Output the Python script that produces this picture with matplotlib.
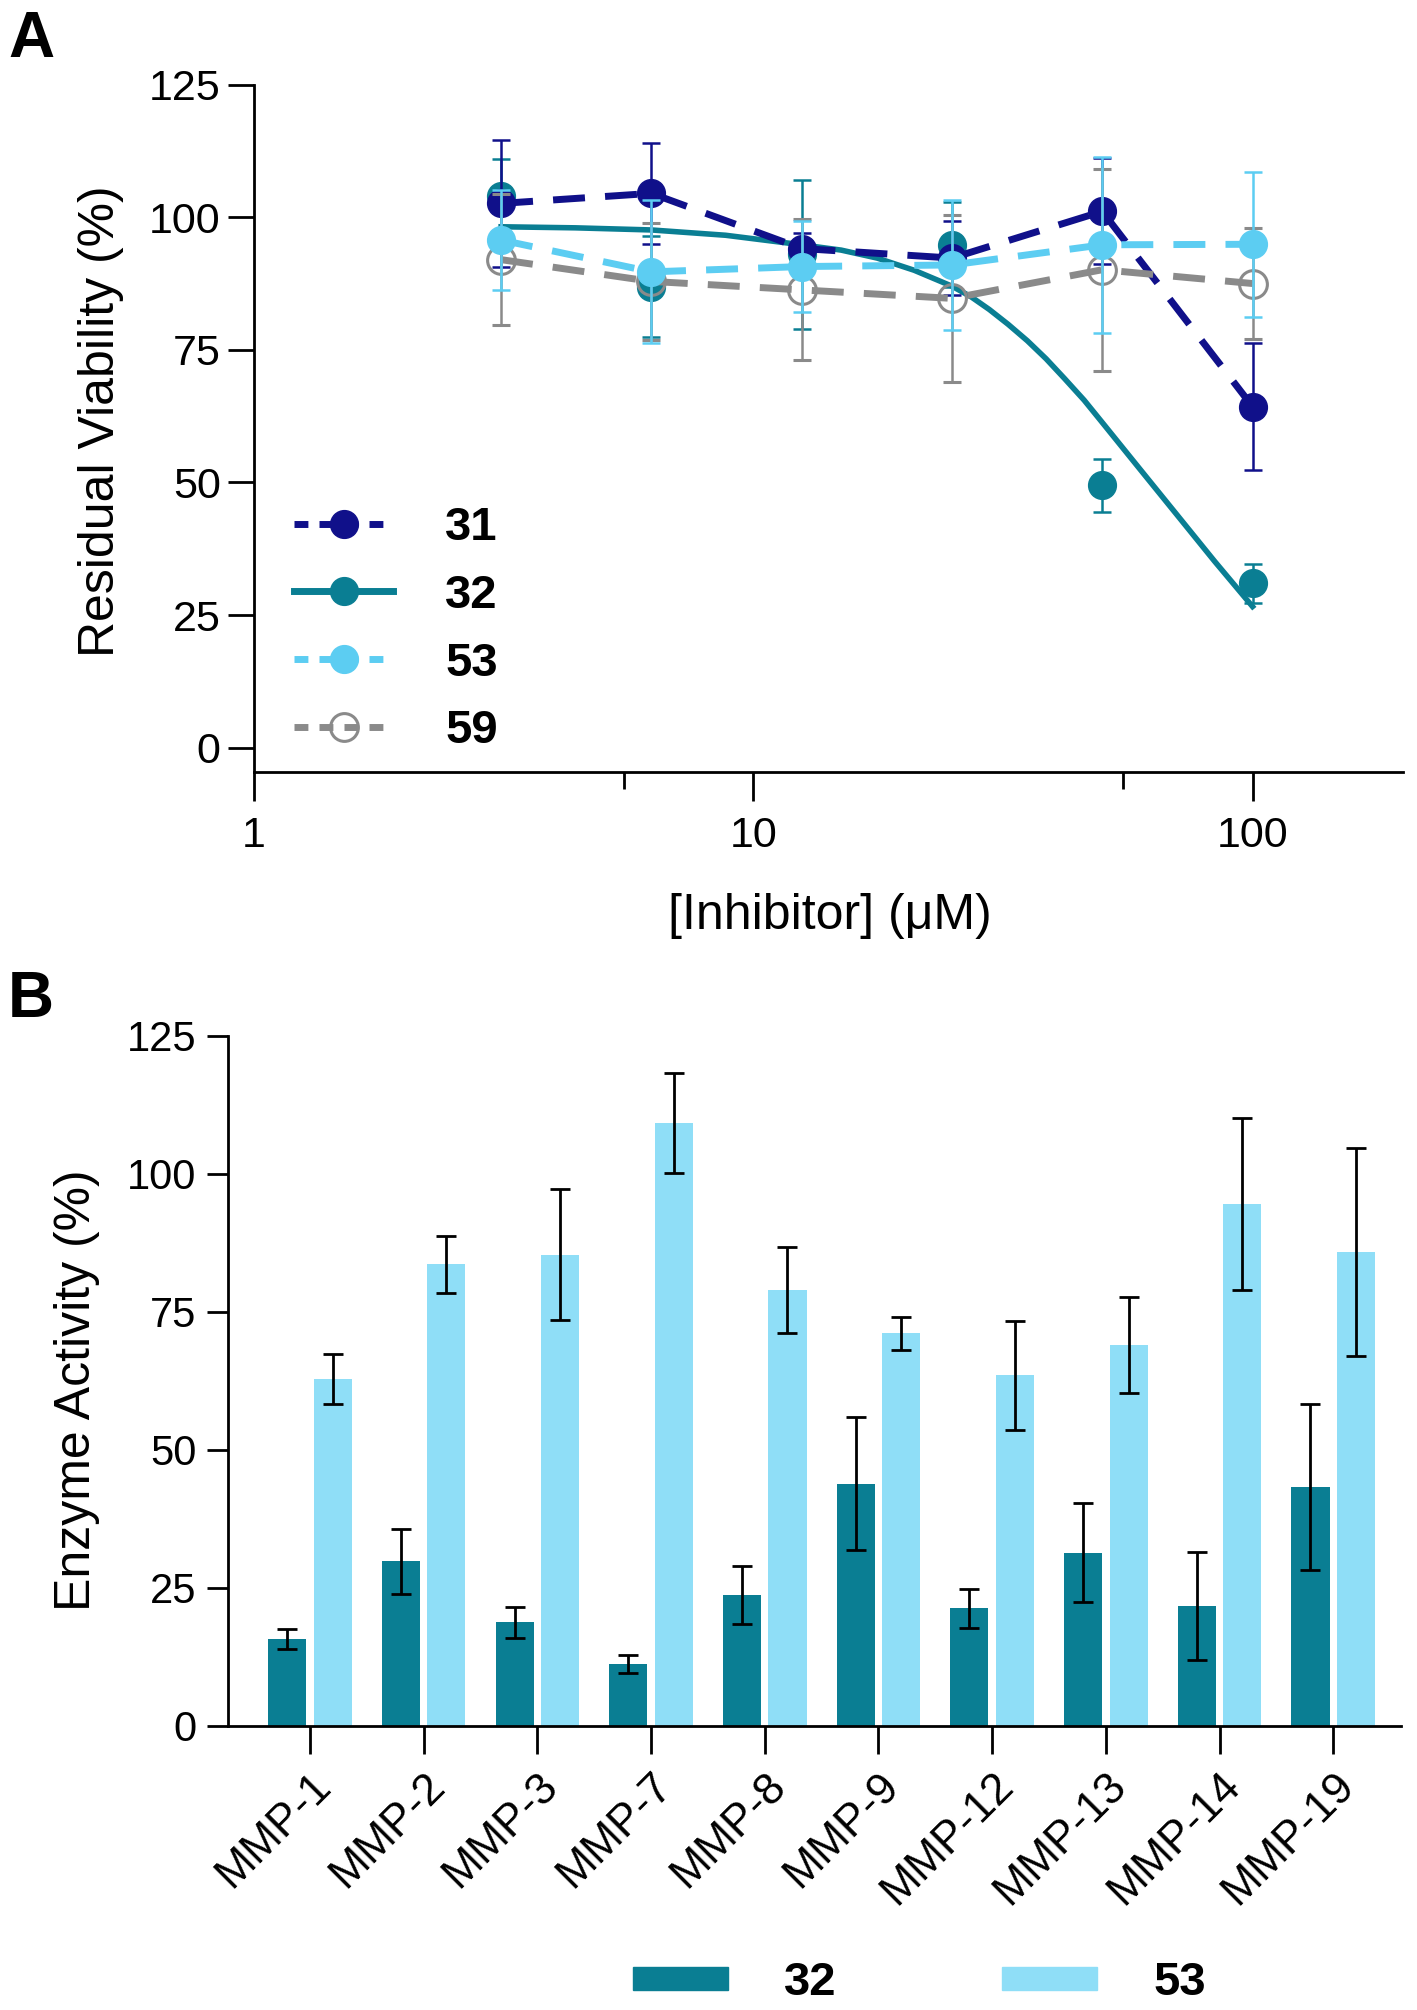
import numpy as np
import matplotlib
matplotlib.use("Agg")
import matplotlib.pyplot as plt
from matplotlib.lines import Line2D
from matplotlib.patches import Patch

plt.rcParams['font.family'] = ['Liberation Sans', 'DejaVu Sans']

# ---- panel A: residual viability vs inhibitor concentration ----
conc = [3.125, 6.25, 12.5, 25, 50, 100]

v31 = [102.6, 104.5, 94.1, 92.3, 101.1, 64.3]
e31 = [12.0, 9.5, 3.0, 7.0, 10.0, 12.0]
v32 = [104.0, 86.9, 93.0, 94.8, 49.5, 31.0]
e32 = [7.0, 9.5, 14.0, 8.0, 5.0, 3.7]
v53 = [95.7, 89.7, 90.7, 91.0, 94.8, 94.9]
e53 = [9.5, 13.5, 8.5, 12.3, 16.6, 13.7]
v59 = [92.0, 87.9, 86.3, 84.7, 90.1, 87.5]
e59 = [12.3, 11.0, 13.3, 15.8, 19.0, 10.5]

# fitted curve for 32
fit32_x = [3.125, 4.4, 6.25, 8.8, 12.5, 15, 17.7, 21, 25, 27.3, 29.7, 32.4,
           35.4, 38.6, 42, 46, 50, 59.5, 70.7, 84, 100]
fit32_y = [98.2, 98.0, 97.6, 96.6, 94.8, 93.8, 92.3, 90.0, 87.0, 85.0, 82.6,
           79.8, 76.7, 73.3, 69.6, 65.5, 61.3, 52.5, 43.8, 35.1, 26.6]

# ---- panel B: enzyme activity per MMP ----
mmps = ['MMP-1', 'MMP-2', 'MMP-3', 'MMP-7', 'MMP-8', 'MMP-9',
        'MMP-12', 'MMP-13', 'MMP-14', 'MMP-19']
act32 = [15.7, 29.8, 18.8, 11.2, 23.7, 43.9, 21.3, 31.4, 21.8, 43.3]
err32 = [1.8, 5.8, 2.8, 1.6, 5.3, 12.1, 3.5, 9.0, 9.8, 15.1]
act53 = [62.9, 83.6, 85.4, 109.2, 79.0, 71.1, 63.5, 69.0, 94.6, 85.9]
err53 = [4.5, 5.1, 11.8, 9.1, 7.8, 3.0, 9.8, 8.7, 15.6, 18.8]

NAVY = '#10108a'
TEAL = '#0a7e93'
SKY = '#5ccdf2'
GREY = '#8a8a8a'
PALE = '#8fdef7'

fig = plt.figure(figsize=(14.17, 20.10), dpi=100)

# ================= panel A =================
ax = fig.add_axes([0.1793, 0.6159, 0.8107, 0.3420])
dash = (4.6, 2.9)
MS = 20

ax.errorbar(conc, v32, yerr=e32, fmt='o', color=TEAL, ms=MS, elinewidth=1.8,
            capsize=6.5, capthick=1.8, zorder=3)
ax.plot(fit32_x, fit32_y, '-', color=TEAL, lw=4, zorder=3,
        solid_joinstyle='round')

ax.errorbar(conc, v31, yerr=e31, fmt='o', color=NAVY, ms=MS, elinewidth=1.8,
            capsize=6.5, capthick=1.8, zorder=4)
ax.plot(conc, v31, color=NAVY, lw=5, dashes=dash, zorder=4)

ax.errorbar(conc, v59, yerr=e59, fmt='o', color=GREY, mfc='none', mew=2.2,
            ms=MS, elinewidth=1.8, capsize=6.5, capthick=1.8, zorder=5)
ax.plot(conc, v59, color=GREY, lw=5, dashes=dash, zorder=5)

ax.errorbar(conc, v53, yerr=e53, fmt='o', color=SKY, ms=MS, elinewidth=1.8,
            capsize=6.5, capthick=1.8, zorder=6)
ax.plot(conc, v53, color=SKY, lw=5, dashes=dash, zorder=6)

ax.set_xscale('log')
ax.set_xlim(1, 200)
ax.set_ylim(-4.6, 125)
ax.set_yticks([0, 25, 50, 75, 100, 125])
ax.set_xticks([1, 10, 100])
ax.set_xticklabels(['1', '10', '100'])
ax.set_xticks([5.5, 55], minor=True)
ax.xaxis.set_minor_formatter(plt.NullFormatter())
for s in ['top', 'right']:
    ax.spines[s].set_visible(False)
for s in ['left', 'bottom']:
    ax.spines[s].set_linewidth(2.0)
ax.tick_params(axis='y', length=19, width=2.0, labelsize=31, pad=5)
ax.tick_params(axis='x', which='major', length=21, width=2.0, labelsize=31, pad=11)
ax.tick_params(axis='x', which='minor', length=12, width=2.0)

ax.set_ylabel('Residual Viability (%)', fontsize=36)
ax.yaxis.set_label_coords(-0.113, 0.51)
ax.set_xlabel('[Inhibitor] (\u03bcM)', fontsize=36, va='top')
ax.xaxis.set_label_coords(0.501, -0.176)

handles = [
    Line2D([], [], color=NAVY, lw=5, dashes=(2.0, 1.6), marker='o', ms=MS),
    Line2D([], [], color=TEAL, lw=5, marker='o', ms=MS),
    Line2D([], [], color=SKY, lw=5, dashes=(2.0, 1.6), marker='o', ms=MS),
    Line2D([], [], color=GREY, lw=5, dashes=(2.0, 1.6), marker='o', ms=MS,
           mfc='none', mew=2.2),
]
ax.legend(handles, ['31', '32', '53', '59'], loc='center left',
          bbox_to_anchor=(0.035, 0.207), frameon=False, borderpad=0,
          borderaxespad=0, handlelength=2.1, handletextpad=1.1,
          labelspacing=0.5, prop={'size': 34, 'weight': 'bold'})

# ================= panel B =================
bx = fig.add_axes([0.161, 0.1413, 0.828, 0.3433])
idx = np.arange(len(mmps))
w = 0.335
bx.bar(idx - 0.2, act32, width=w, color=TEAL, zorder=2)
bx.bar(idx + 0.2, act53, width=w, color=PALE, zorder=2)
bx.errorbar(idx - 0.2, act32, yerr=err32, fmt='none', ecolor='black',
            elinewidth=2.0, capsize=7.5, capthick=2.0, zorder=3)
bx.errorbar(idx + 0.2, act53, yerr=err53, fmt='none', ecolor='black',
            elinewidth=2.0, capsize=7.5, capthick=2.0, zorder=3)

bx.set_xlim(-0.72, 9.6)
bx.set_ylim(0, 125)
bx.set_yticks([0, 25, 50, 75, 100, 125])
bx.set_xticks(idx)
bx.set_xticklabels(mmps, rotation=45, ha='right', va='top',
                   rotation_mode='anchor')
for s in ['top', 'right']:
    bx.spines[s].set_visible(False)
for s in ['left', 'bottom']:
    bx.spines[s].set_linewidth(2.0)
bx.tick_params(axis='y', length=15, width=2.0, labelsize=30, pad=8)
bx.tick_params(axis='x', length=20, width=2.0, labelsize=32, pad=8)

bx.set_ylabel('Enzyme Activity (%)', fontsize=36)
bx.yaxis.set_label_coords(-0.109, 0.486)

fig.legend([Patch(color=TEAL), Patch(color=PALE)], ['32', '53'],
           loc='center', bbox_to_anchor=(0.649, 0.0134), ncol=2,
           frameon=False, borderpad=0, handlelength=2.0, handleheight=0.37,
           handletextpad=1.2, columnspacing=3.5,
           prop={'size': 34, 'weight': 'bold'})

fig.text(8 / 1417, 1 - 10 / 2010, 'A', ha='left', va='top', fontsize=46,
         weight='bold')
fig.text(8 / 1417, 1 - 970 / 2010, 'B', ha='left', va='top', fontsize=46,
         weight='bold')

fig.savefig('out.png', dpi=100)
